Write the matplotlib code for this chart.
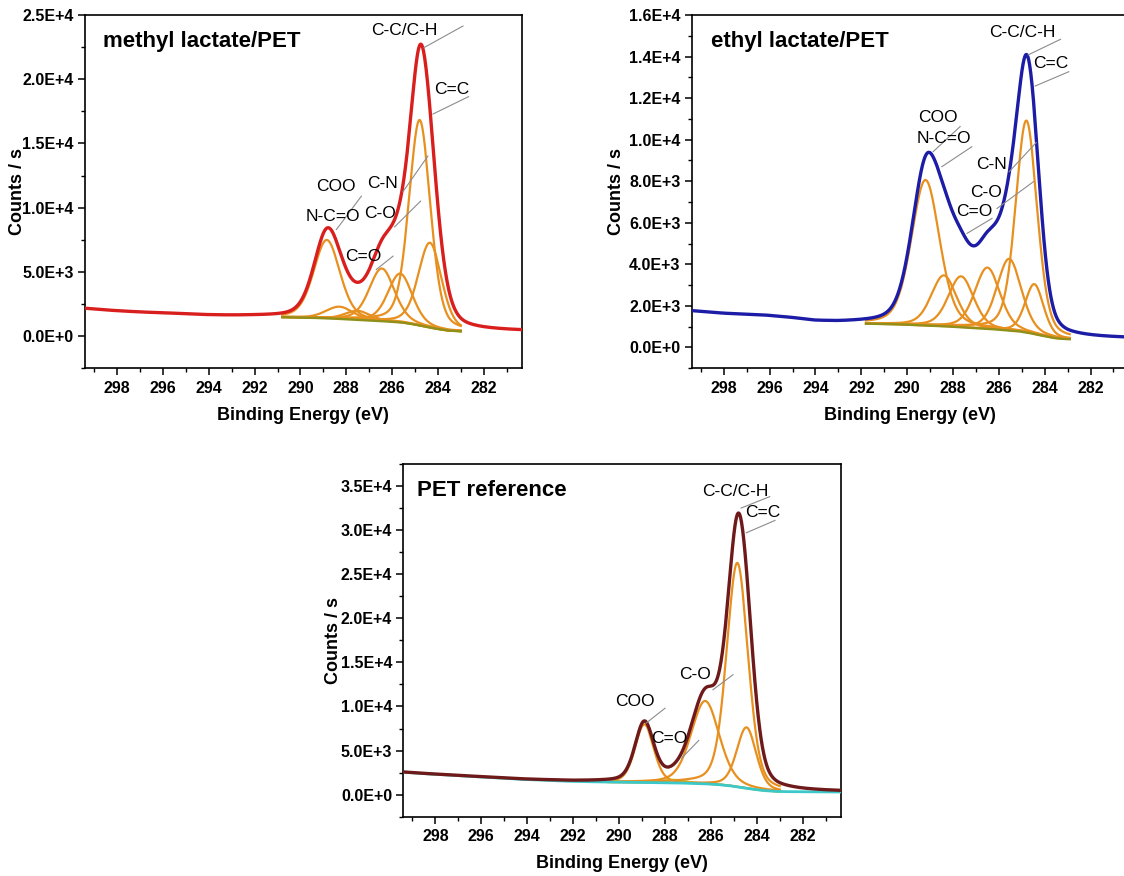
import numpy as np
import matplotlib.pyplot as plt
from matplotlib.ticker import MultipleLocator, FuncFormatter

plt.rcParams['font.family'] = ['Liberation Sans', 'DejaVu Sans']

# ---- methyl lactate/PET : fitted components (centre eV, height counts/s, fwhm eV)
ml_pos = [288.85, 288.3, 287.5, 286.45, 285.65, 284.8, 284.35]
ml_height = [6100, 950, 700, 4100, 3800, 16000, 6600]
ml_fwhm = [1.35, 1.4, 1.3, 1.3, 1.25, 1.1, 1.2]
ml_bg_x = [299.4, 298, 297, 296, 295, 294, 293, 292, 291, 290, 289, 288, 287, 286, 285.5, 285, 284.5, 284, 283.5, 283, 282, 280.3]
ml_bg_y = [2150, 1950, 1850, 1770, 1700, 1600, 1550, 1520, 1480, 1450, 1400, 1320, 1220, 1120, 1050, 900, 720, 550, 420, 380, 360, 350]
ml_fit = (283.0, 290.8)
ml_text = ["C-C/C-H", "C=C", "COO", "N-C=O", "C-N", "C-O", "C=O"]
ml_text_x = [285.48, 283.42, 288.47, 288.57, 286.42, 286.54, 287.27]
ml_text_y = [23780, 19210, 11680, 9290, 11890, 9550, 6180]
ml_lead = [(282.91, 24140, 284.61, 22460), (282.67, 18640, 284.22, 17290),
           (287.34, 10900, 288.43, 8300), (284.44, 14020, 285.53, 11240),
           (284.76, 10510, 285.89, 8510), (285.96, 6230, 286.69, 5190)]

# ---- ethyl lactate/PET
el_pos = [289.2, 288.4, 287.65, 286.5, 285.55, 284.8, 284.45]
el_height = [7000, 2450, 2450, 2950, 3450, 10200, 2400]
el_fwhm = [1.45, 1.3, 1.3, 1.3, 1.25, 1.1, 0.95]
el_bg_x = [299.4, 298, 297, 296, 295, 294, 293, 292, 291, 290, 289, 288, 287, 286, 285, 284.5, 284, 283.5, 283, 282, 280.3]
el_bg_y = [1750, 1620, 1560, 1500, 1380, 1230, 1170, 1150, 1130, 1100, 1050, 1000, 930, 860, 760, 660, 540, 440, 400, 400, 400]
el_fit = (282.9, 291.8)
el_text = ["C-C/C-H", "C=C", "COO", "N-C=O", "C-N", "C-O", "C=O"]
el_text_x = [284.97, 283.74, 288.67, 288.42, 286.30, 286.57, 287.09]
el_text_y = [15170, 13680, 11080, 10060, 8810, 7450, 6530]
el_lead = [(283.31, 14830, 284.72, 14080), (282.95, 13270, 284.42, 12580),
           (287.69, 10630, 288.87, 9420), (287.18, 9660, 288.49, 8700),
           (284.37, 9860, 285.55, 8460), (284.49, 7980, 286.08, 6690),
           (286.30, 6210, 287.39, 5490)]

# ---- PET reference
pet_pos = [288.9, 287.6, 286.25, 284.85, 284.45]
pet_height = [6600, 350, 9400, 25400, 6900]
pet_fwhm = [0.95, 1.2, 1.45, 1.1, 1.0]
pet_bg_x = [299.4, 298, 297, 296, 295, 294, 293, 292, 291, 290, 289, 288, 287, 286, 285.5, 285, 284.5, 284, 283.5, 283, 282, 280.3]
pet_bg_y = [2550, 2300, 2150, 2000, 1850, 1700, 1600, 1500, 1450, 1400, 1380, 1350, 1300, 1200, 1100, 950, 750, 550, 420, 350, 320, 300]
pet_fit = (283.0, 290.5)
pet_text = ["C-C/C-H", "C=C", "C-O", "COO", "C=O"]
pet_text_x = [284.93, 283.76, 286.69, 289.3, 287.81]
pet_text_y = [34400, 32000, 13600, 10570, 6420]
pet_lead = [(283.44, 33800, 284.69, 32500), (283.21, 31100, 284.46, 29700),
            (285.04, 13600, 285.91, 11900), (288.0, 9800, 288.83, 8100),
            (286.53, 6150, 287.27, 4150)]

ORANGE = '#e8901f'
GREY = '#8c8c8c'


def gl(x, c, h, w, m=0.3):
    # Gaussian-Lorentzian line shape used in XPS fits
    u = 4 * (x - c) ** 2 / w ** 2
    return h * ((1 - m) * np.exp(-np.log(2) * u) + m / (1 + u))


def sci(v, pos):
    if v == 0:
        return '0.0E+0'
    e = int(np.floor(np.log10(abs(v)) + 1e-9))
    return f'{v / 10 ** e:.1f}E+{e}'


def panel(rect, title, title_x, pos, height, fwhm, bgx, bgy, fit, env_col, bg_col,
          ylim, ymaj, ymin, txt, tx, ty, leads, ylab_x, bg_full=False, comp_cols=None):
    ax = fig.add_axes(rect)
    x = np.linspace(280.3, 299.4, 2000)
    bg = np.interp(x, bgx[::-1], bgy[::-1])
    comps = [gl(x, c, h, w) for c, h, w in zip(pos, height, fwhm)]
    env = bg + np.sum(comps, axis=0)
    inside = (x >= fit[0]) & (x <= fit[1])
    for i, cp in enumerate(comps):
        col = ORANGE if comp_cols is None else comp_cols[i]
        ax.plot(x[inside], (bg + cp)[inside], color=col, lw=1.6, zorder=2)
    if bg_full:
        ax.plot(x, bg, color=bg_col, lw=2.0, zorder=3)
    else:
        ax.plot(x[inside], bg[inside], color=bg_col, lw=1.7, zorder=3)
    ax.plot(x, env, color=env_col, lw=2.4, zorder=4)
    for (x0, y0, x1, y1) in leads:
        ax.plot([x0, x1], [y0, y1], color=GREY, lw=0.8, zorder=5)
    for s, a, b in zip(txt, tx, ty):
        ax.text(a, b, s, ha='center', va='center', fontsize=12.5, zorder=6)
    ax.text(title_x, 0.924, title, transform=ax.transAxes, fontsize=16,
            fontweight='bold', va='center', ha='left')
    ax.set_xlim(299.4, 280.35)
    ax.set_ylim(*ylim)
    ax.xaxis.set_major_locator(MultipleLocator(2))
    ax.xaxis.set_minor_locator(MultipleLocator(1))
    ax.yaxis.set_major_locator(MultipleLocator(ymaj))
    ax.yaxis.set_minor_locator(MultipleLocator(ymin))
    ax.yaxis.set_major_formatter(FuncFormatter(sci))
    ax.tick_params(which='major', length=5, width=1.1, direction='out', pad=3,
                   labelsize=11.5)
    ax.tick_params(axis='x', which='major', pad=4)
    ax.tick_params(which='minor', length=3, width=1.0, direction='out')
    for lab in ax.get_xticklabels() + ax.get_yticklabels():
        lab.set_fontweight('bold')
    for sp in ax.spines.values():
        sp.set_linewidth(1.2)
    ax.set_xlabel('Binding Energy (eV)', fontsize=13, fontweight='bold', labelpad=8)
    ax.set_ylabel('Counts / s', fontsize=13, fontweight='bold')
    ax.yaxis.set_label_coords(ylab_x, 0.5)
    return ax


fig = plt.figure(figsize=(11.24, 8.76), dpi=100)
fig.patch.set_facecolor('white')

panel([0.0756, 0.5796, 0.3885, 0.4033], 'methyl lactate/PET', 0.041, ml_pos, ml_height,
      ml_fwhm, ml_bg_x, ml_bg_y, ml_fit, '#d91e1e', '#8f8f1a', (-2500, 25000),
      5000, 2500, ml_text, ml_text_x, ml_text_y, ml_lead, -0.136)

panel([0.6154, 0.5796, 0.3885, 0.4033], 'ethyl lactate/PET', 0.044, el_pos, el_height,
      el_fwhm, el_bg_x, el_bg_y, el_fit, '#1c1ca6', '#8f8f1a', (-1000, 16000),
      2000, 1000, el_text, el_text_x, el_text_y, el_lead, -0.152)

panel([0.3588, 0.0677, 0.3891, 0.4026], 'PET reference', 0.031, pet_pos, pet_height,
      pet_fwhm, pet_bg_x, pet_bg_y, pet_fit, '#6e1a1a', '#3cc8c8', (-2500, 37500),
      5000, 2500, pet_text, pet_text_x, pet_text_y, pet_lead, -0.141, bg_full=True,
      comp_cols=[ORANGE, '#c4c42a', ORANGE, ORANGE, ORANGE])

fig.savefig('out.png', dpi=100, facecolor='white')
